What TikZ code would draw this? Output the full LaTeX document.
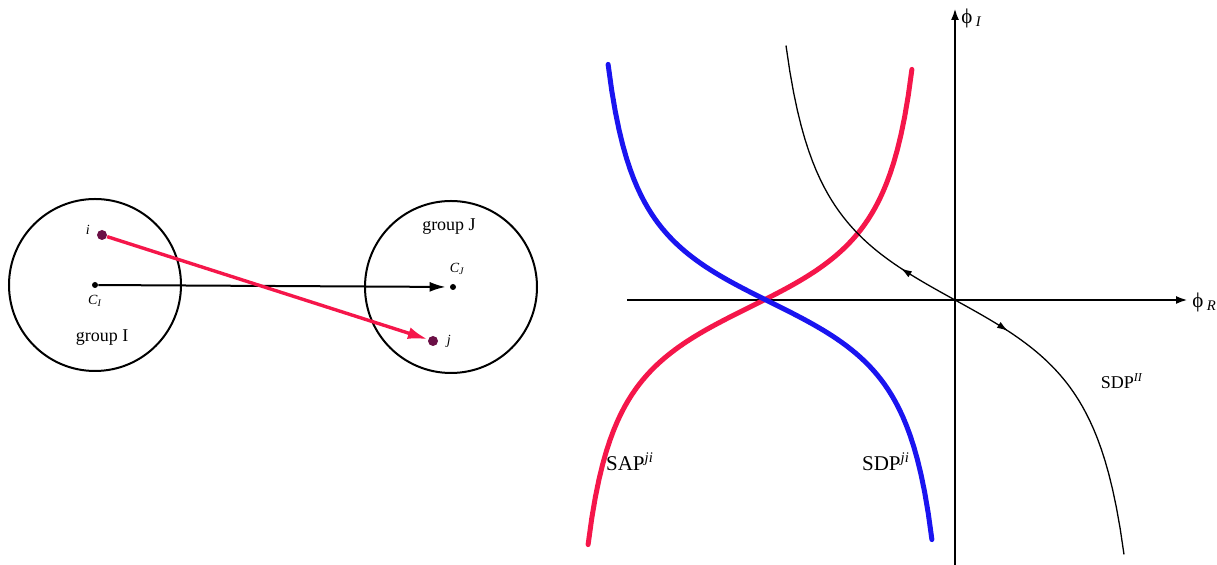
\documentclass[tikz,border=0pt]{standalone}
\usepackage{fontspec}
\setmainfont{Liberation Serif}
\usetikzlibrary{arrows.meta,positioning,decorations.markings}
\definecolor{cRed}{HTML}{F5164A}
\definecolor{cBlue}{HTML}{1A14F0}
\definecolor{cDot}{HTML}{6B1046}
\tikzset{
  grp/.style={circle,draw,line width=1pt,minimum size=86pt,inner sep=0pt},
  cdot/.style={circle,fill=black,inner sep=0pt,minimum size=3pt},
  pdot/.style={circle,fill=cDot,inner sep=0pt,minimum size=5pt},
  lbl/.style={font=\fontsize{9}{10}\selectfont,inner sep=1pt},
  small/.style={font=\fontsize{7}{8}\selectfont\itshape,inner sep=1pt},
  big/.style={font=\fontsize{10.5}{12}\selectfont,inner sep=1pt},
  axis/.style={line width=1.2pt,-{Latex[length=6pt,width=4pt]}},
  thickcurve/.style={line width=2.5pt,line cap=round},
  flow/.style={line width=0.65pt,postaction={decorate},
    decoration={markings,
      mark=at position 0.42 with {\arrow{Latex[length=5.5pt,width=3.5pt,reversed]}},
      mark=at position 0.595 with {\arrow{Latex[length=5.5pt,width=3.5pt]}}}},
}
\begin{document}
\begin{tikzpicture}[x=0.5pt,y=-0.5pt]
  \useasboundingbox (0,0) rectangle (1217,565);
  % two groups
  \node[grp] (gI) at (95,285) {};
  \node[grp] (gJ) at (451,287) {};
  \node[cdot] (CI) at (95,285) {};
  \node[cdot] (CJ) at (453,287) {};
  \node[pdot] (i) at (102,235) {};
  \node[pdot] (j) at (433,341) {};
  \node[small,below=2pt of CI] (CIl) {C\textsubscript{I}};
  \node[small,above right=4pt and -4pt of CJ] (CJl) {C\textsubscript{J}};
  \node[small,above left=-3pt and 3pt of i] (il) {i};
  \node[small,right=3pt of j] (jl) {j};
  \node[lbl] (tI) at (102,338) {group I};
  \node[lbl] (tJ) at (449,227) {group J};
  \draw[line width=1pt,-{Latex[length=8pt,width=5pt]},shorten >=2pt] (CI) -- (CJ);
  \draw[cRed,line width=1.7pt,-{Latex[length=10pt,width=6pt]}] (i) -- (j);
  % axes
  \coordinate (O) at (955,300);
  \coordinate (xs) at (627,300);
  \coordinate (xe) at (1188,300);
  \coordinate (ys) at (955,565);
  \coordinate (ye) at (955,8);
  \draw[axis] (xs) -- (xe);
  \draw[axis] (ys) -- (ye);
  \node[big,anchor=west] (phR) at (1190,302) {ϕ\,\textsubscript{\textit{R}}};
  \node[big,anchor=west] (phI) at (959,18) {ϕ\,\textsubscript{\textit{I}}};
  % paths
  \draw[thickcurve,cRed] plot[domain=-75.6:75.6,samples=90,variable=\t]
    ({750+122.7*rad(\t)},{307-61*tan(\t)});
  \draw[thickcurve,cBlue] plot[domain=-75.6:75.6,samples=90,variable=\t]
    ({770+122.7*rad(\t)},{302+61*tan(\t)});
  \draw[flow] plot[domain=-74.2:74.2,samples=90,variable=\t]
    ({955+130.5*rad(\t)},{300+72*tan(\t)});
  \node[big] (sap) at (630,462) {SAP\textsuperscript{\textit{ji}}};
  \node[big] (sdp) at (886,462) {SDP\textsuperscript{\textit{ji}}};
  \node[lbl] (sdpII) at (1122,381) {SDP\textsuperscript{\textit{II}}};
\end{tikzpicture}
\end{document}
